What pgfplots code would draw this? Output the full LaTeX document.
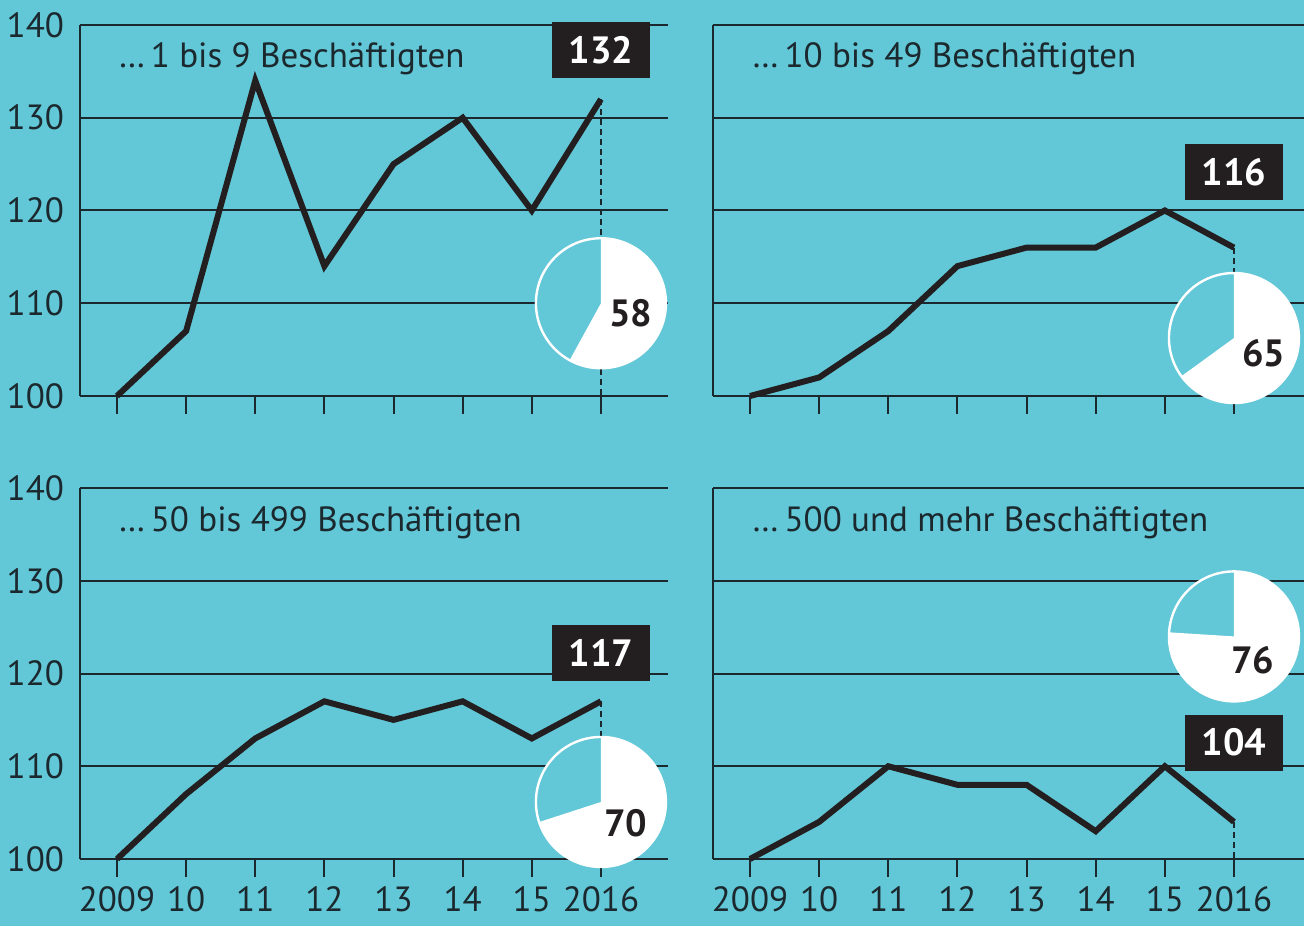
\documentclass[border=0pt]{standalone}
\usepackage{pgfplots}
\pgfplotsset{compat=1.18}
\usepackage{fontspec}
\setmainfont{PT Sans}
\definecolor{bg}{RGB}{98,199,214}
\definecolor{ink}{RGB}{27,40,46}
\definecolor{boxc}{RGB}{35,31,32}

\pgfplotsset{panel/.style={
  scale only axis, height=185.5pt,
  ymin=100, ymax=140, xmin=-0.535,
  axis x line*=bottom, axis y line*=left,
  axis line style={ink, line width=1pt, -},
  ymajorgrids, grid style={ink, line width=1pt},
  ytick={100,110,...,140},
  xtick={0,...,7},
  tick align=outside, major tick length=9pt,
  xtick style={ink, line width=1pt}, ytick style={draw=none},
  xticklabels={2009,10,11,12,13,14,15,2016},
  tick label style={font=\fontsize{17.5}{20}\selectfont, text=ink},
  yticklabel style={xshift=4.5pt},
  xticklabel style={yshift=-3.5pt, inner sep=1pt},
  /pgf/number format/assume math mode=true,
  clip=false,
},
left panel/.style={panel, width=294pt, xmax=7.97},
right panel/.style={panel, width=295.5pt, xmax=8.013, yticklabels={}},
dataline/.style={boxc, line width=3pt, line join=miter, mark=none},
}
\tikzset{
ttl/.style={anchor=base west, font=\fontsize{17.5}{20}\selectfont, text=ink},
valbox/.style={fill=boxc, text=white, font=\fontsize{19}{22}\selectfont\bfseries, minimum width=49pt, minimum height=28pt, inner sep=0pt},
pienum/.style={text=boxc, font=\fontsize{19}{22}\selectfont\bfseries},
guide/.style={ink, line width=0.7pt, dash pattern=on 3pt off 2pt},
}

\begin{document}
\begin{tikzpicture}
\fill[bg] (0,0) rectangle (652pt,463pt);

% Panel 1
\begin{axis}[left panel, at={(40pt,265pt)}, anchor=south west, xticklabels={}]
\draw[guide] (axis cs:7,132) -- (axis cs:7,100);
\addplot[dataline] coordinates {(0,100) (1,107) (2,134) (3,114) (4,125) (5,130) (6,120) (7,132)};
\filldraw[fill=bg, draw=white, line width=1.2pt] (axis cs:7,110) circle[radius=32.5pt];
\fill[white] (axis cs:7,110) -- ++(90:32.5pt) arc[start angle=90, end angle=-118.8, radius=32.5pt] -- cycle;
\node[pienum] at ([shift={(15pt,-5pt)}]axis cs:7,110) {58};
\node[valbox] at (axis cs:7,137.3) {132};
\node[ttl] at (axis cs:-0.08,135.4) {…\,1 bis 9 Beschäftigten};
\end{axis}

% Panel 2
\begin{axis}[right panel, at={(356.5pt,265pt)}, anchor=south west, xticklabels={}]
\draw[guide] (axis cs:7,116) -- (axis cs:7,100);
\addplot[dataline] coordinates {(0,100) (1,102) (2,107) (3,114) (4,116) (5,116) (6,120) (7,116)};
\filldraw[fill=bg, draw=white, line width=1.2pt] (axis cs:7,106.25) circle[radius=32.5pt];
\fill[white] (axis cs:7,106.25) -- ++(90:32.5pt) arc[start angle=90, end angle=-144, radius=32.5pt] -- cycle;
\node[pienum] at ([shift={(15pt,-7.5pt)}]axis cs:7,106.25) {65};
\node[valbox] at (axis cs:7,124.15) {116};
\node[ttl] at (axis cs:-0.07,135.4) {…\,10 bis 49 Beschäftigten};
\end{axis}

% Panel 3
\begin{axis}[left panel, at={(40pt,33.5pt)}, anchor=south west]
\draw[guide] (axis cs:7,117) -- (axis cs:7,100);
\addplot[dataline] coordinates {(0,100) (1,107) (2,113) (3,117) (4,115) (5,117) (6,113) (7,117)};
\filldraw[fill=bg, draw=white, line width=1.2pt] (axis cs:7,106.15) circle[radius=32.5pt];
\fill[white] (axis cs:7,106.15) -- ++(90:32.5pt) arc[start angle=90, end angle=-162, radius=32.5pt] -- cycle;
\node[pienum] at ([shift={(12.5pt,-10.5pt)}]axis cs:7,106.15) {70};
\node[valbox] at (axis cs:7,122.2) {117};
\node[ttl] at (axis cs:-0.08,135.3) {…\,50 bis 499 Beschäftigten};
\end{axis}

% Panel 4
\begin{axis}[right panel, at={(356.5pt,33.5pt)}, anchor=south west]
\draw[guide] (axis cs:7,104) -- (axis cs:7,100);
\addplot[dataline] coordinates {(0,100) (1,104) (2,110) (3,108) (4,108) (5,103) (6,110) (7,104)};
\filldraw[fill=bg, draw=white, line width=1.2pt] (axis cs:7,124) circle[radius=32.5pt];
\fill[white] (axis cs:7,124) -- ++(90:32.5pt) arc[start angle=90, end angle=-183.6, radius=32.5pt] -- cycle;
\node[pienum] at ([shift={(9.5pt,-12pt)}]axis cs:7,124) {76};
\node[valbox] at (axis cs:7,112.56) {104};
\node[ttl] at (axis cs:-0.07,135.3) {…\,500 und mehr Beschäftigten};
\end{axis}

\pgfresetboundingbox
\useasboundingbox (0,0) rectangle (652pt,463pt);
\end{tikzpicture}
\end{document}
